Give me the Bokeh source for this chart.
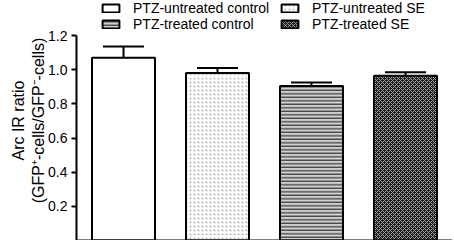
from bokeh.plotting import figure
from bokeh.models import Range1d, FixedTicker, PrintfTickFormatter, Legend, LegendItem, Whisker, TeeHead, ColumnDataSource
from bokeh.embed import file_html
from bokeh.resources import INLINE

# data
groups = ["PTZ-untreated control", "PTZ-untreated SE", "PTZ-treated control", "PTZ-treated SE"]
means = [1.07, 0.98, 0.905, 0.965]
errors = [0.065, 0.03, 0.02, 0.02]
y_ticks = [0.2, 0.4, 0.6, 0.8, 1.0, 1.2]

styles = [
    dict(fill_color="white"),
    dict(fill_color="white", hatch_pattern="dot", hatch_color="#b4b4b4", hatch_scale=4, hatch_weight=1),
    dict(fill_color="#d0d0d0", hatch_pattern="horizontal_line", hatch_color="#111111", hatch_scale=3.5, hatch_weight=1),
    dict(fill_color="#1c1c1c", hatch_pattern="diagonal_cross", hatch_color="#a0a0a0", hatch_scale=4, hatch_weight=1),
]

FONT = "Liberation Sans"

p = figure(frame_width=376, frame_height=240, output_backend="svg", toolbar_location=None,
           title=None,
           x_range=Range1d(-0.5, 3.5), y_range=Range1d(0, 1.2 * 240 / 205),
           min_border_left=76, min_border_right=0, min_border_top=0, min_border_bottom=0)
p.outline_line_color = None
p.grid.visible = False

items = []
for i, g in enumerate(groups):
    r = p.vbar(x=[i], top=[means[i]], bottom=0, width=0.67, line_color="black", line_width=2, **styles[i])
    items.append(LegendItem(label=g, renderers=[r]))

src = ColumnDataSource(dict(x=list(range(len(groups))), lower=means,
                            upper=[m + e for m, e in zip(means, errors)]))
w = Whisker(source=src, base="x", lower="lower", upper="upper", dimension="height",
            line_color="black", line_width=2,
            upper_head=TeeHead(size=41, line_color="black", line_width=2), lower_head=None)
p.add_layout(w)

# y axis
ya = p.yaxis[0]
ya.ticker = FixedTicker(ticks=y_ticks)
ya.bounds = (0, 1.2)
ya.formatter = PrintfTickFormatter(format="%.1f")
ya.axis_line_width = 2
ya.major_tick_line_width = 2
ya.major_tick_out = 5
ya.major_tick_in = 0
ya.minor_tick_out = 0
ya.minor_tick_in = 0
ya.major_label_text_font = FONT
ya.major_label_text_font_size = "14px"
ya.major_label_text_color = "black"
ya.major_label_standoff = 4
ya.axis_label = "Arc IR ratio\n(GFP\u207a-cells/GFP\u207b-cells)"
ya.axis_label_text_font = FONT
ya.axis_label_text_font_size = "16px"
ya.axis_label_text_font_style = "normal"
ya.axis_label_text_color = "black"
ya.axis_label_standoff = -2

xa = p.xaxis[0]
xa.ticker = FixedTicker(ticks=[])
xa.axis_line_width = 2
xa.major_tick_out = 0
xa.major_tick_in = 0
xa.minor_tick_out = 0
xa.minor_tick_in = 0
xa.major_label_standoff = 0

common = dict(label_text_font=FONT, label_text_font_size="14px",
              label_text_color="black", glyph_width=21, glyph_height=10, label_height=10,
              label_standoff=12, spacing=0, padding=0, margin=0, border_line_color=None,
              background_fill_alpha=0)
leg1 = Legend(items=[items[0], items[2]], location=(24, 208), **common)
leg2 = Legend(items=[items[1], items[3]], location=(203, 208), **common)
p.add_layout(leg1)
p.add_layout(leg2)

open("out.html", "w").write(file_html(p, INLINE))
